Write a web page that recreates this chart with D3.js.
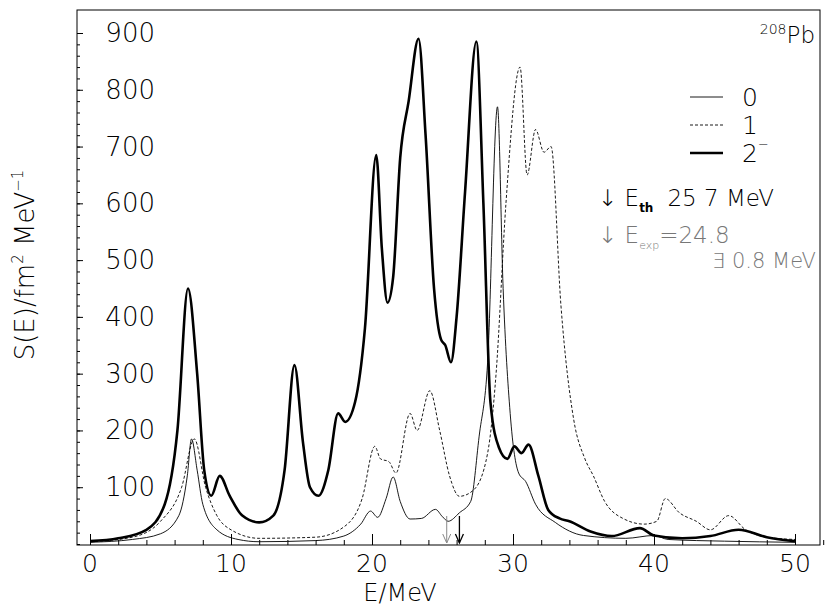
<!DOCTYPE html>
<html><head><meta charset="utf-8">
<script src="https://cdn.jsdelivr.net/npm/d3@7"></script>
<style>body{margin:0;background:#fff}text{font-family:"DejaVu Sans",sans-serif;font-weight:200}</style>
</head><body><svg id="c" width="830" height="606"></svg>
<script>
// state 0 (thin), 1 (dashed), 2- (thick): [E, S]
const s0 = [[0,3],[3,8],[5,18],[6.3,50],[6.9,120],[7.2,185],[7.6,130],[8,70],[9,25],[10.5,8],[12,4],[16,6],[18,14],[19.2,35],[19.9,58],[20.4,47],[21,80],[21.5,118],[22,75],[22.7,44],[23.5,45],[24.5,61],[25,48],[25.4,40],[26.2,55],[27,75],[27.6,190],[28.2,320],[28.9,770],[29.3,450],[29.8,230],[30.4,125],[30.9,110],[31.6,70],[33,38],[35,15],[38,10],[40,15],[41,8],[45,5],[50,3]];
const s1 = [[0,4],[3,12],[5,40],[6.5,100],[7.4,185],[8.2,100],[9,50],[10,25],[12,10],[16,12],[18,30],[19.3,80],[20.2,172],[20.6,150],[21.2,145],[21.7,125],[22.7,230],[23.2,200],[24.1,270],[24.8,200],[25.5,120],[26.2,84],[27.2,95],[28.2,160],[28.8,300],[29.5,600],[30.5,840],[31,650],[31.6,730],[32.2,690],[32.7,700],[33.4,420],[34.3,220],[35.1,150],[35.7,120],[36.5,75],[37.8,45],[39.3,35],[40.2,40],[40.8,80],[41.8,55],[43,40],[44,25],[45.3,50],[46.5,25],[48,12],[50,8]];
const s2 = [[0,5],[2,10],[4,25],[5.3,70],[6.2,200],[6.95,450],[7.6,300],[8.1,130],[8.6,85],[9.2,120],[9.9,85],[10.8,50],[12,38],[13,50],[13.8,130],[14.5,315],[15.1,180],[15.6,100],[16.2,85],[16.9,130],[17.6,230],[18.1,215],[18.8,250],[19.5,380],[20.3,685],[20.7,520],[21.1,425],[21.5,470],[22,680],[22.6,780],[23.3,890],[23.8,720],[24.4,450],[24.9,360],[25.2,350],[25.6,320],[26,400],[26.6,620],[27.4,885],[27.9,600],[28.4,250],[29,170],[29.6,150],[30.1,172],[30.6,160],[31.1,175],[31.8,120],[32.5,60],[33.3,45],[34,40],[35.5,22],[37,14],[39,28],[40,15],[42,10],[44,14],[46,25],[48,12],[50,5]];
const xTicks = [0,10,20,30,40,50];
const yTicks = [100,200,300,400,500,600,700,800,900];
const arrows = [[25.3,"#888",1],[26.2,"#000",1.3]];

const svg = d3.select("#c");
const x = d3.scaleLinear().domain([0,50]).range([90,795]);
const y = d3.scaleLinear().domain([0,900]).range([544,33]);
const L=77,R=820,T=10,B=545;
svg.append("rect").attr("x",L).attr("y",T).attr("width",R-L).attr("height",B-T).attr("fill","none").attr("stroke","#000").attr("stroke-width",1);

svg.append("g").attr("transform",`translate(0,${B})`)
  .call(d3.axisTop(x).tickValues(d3.range(0,53,2)).tickSize(5).tickFormat(""))
  .call(g=>g.select(".domain").remove());
svg.append("g").attr("transform",`translate(0,${B})`)
  .call(d3.axisTop(x).tickValues(xTicks).tickSize(11).tickFormat(""))
  .call(g=>g.select(".domain").remove());
xTicks.forEach(t=>svg.append("text").attr("x",x(t)).attr("y",572).attr("text-anchor","middle").attr("font-size",25).text(t));
svg.append("text").attr("x",400).attr("y",601).attr("text-anchor","middle").attr("font-size",24).text("E/MeV");

svg.append("g").attr("transform",`translate(${L},0)`)
  .call(d3.axisRight(y).tickValues(d3.range(0,901,20)).tickSize(3).tickFormat(""))
  .call(g=>g.select(".domain").remove());
svg.append("g").attr("transform",`translate(${L},0)`)
  .call(d3.axisRight(y).tickValues(yTicks).tickSize(6).tickFormat(""))
  .call(g=>g.select(".domain").remove());
yTicks.forEach(t=>svg.append("text").attr("x",155).attr("y",y(t)+9).attr("text-anchor","end").attr("font-size",26).text(t));
svg.append("text").attr("transform","translate(34,265) rotate(-90)").attr("text-anchor","middle").attr("font-size",26)
  .html('S(E)/fm<tspan font-size="15" dy="-11">2</tspan><tspan dy="11"> MeV</tspan><tspan font-size="15" dy="-11">−1</tspan>');

const line = d3.line().x(d=>x(d[0])).y(d=>y(d[1])).curve(d3.curveMonotoneX);
svg.append("path").datum(s0).attr("d",line).attr("fill","none").attr("stroke","#000").attr("stroke-width",0.9);
svg.append("path").datum(s1).attr("d",line).attr("fill","none").attr("stroke","#000").attr("stroke-width",0.9).attr("stroke-dasharray","3,2");
svg.append("path").datum(s2).attr("d",line).attr("fill","none").attr("stroke","#000").attr("stroke-width",2.6);

arrows.forEach(([e,c,w])=>{
  svg.append("line").attr("x1",x(e)).attr("x2",x(e)).attr("y1",516).attr("y2",543).attr("stroke",c).attr("stroke-width",w);
  svg.append("path").attr("d",`M${x(e)-4},534 L${x(e)},543 L${x(e)+4},534`).attr("fill","none").attr("stroke",c).attr("stroke-width",w);
});

svg.append("text").attr("x",815).attr("y",43).attr("text-anchor","end").attr("font-size",23)
  .html('<tspan font-size="14" dy="-9">208</tspan><tspan dy="9">Pb</tspan>');
const leg=[["0",0.9,null],["1",0.9,"3,2"],["2",2.6,null]];
leg.forEach((d,i)=>{
  const yy=97+i*28;
  svg.append("line").attr("x1",690).attr("x2",723).attr("y1",yy).attr("y2",yy).attr("stroke","#000").attr("stroke-width",d[1]).attr("stroke-dasharray",d[2]);
  const t=svg.append("text").attr("x",742).attr("y",yy+9).attr("font-size",25).text(d[0]);
  if(i===2) t.append("tspan").attr("font-size",13).attr("dy",-13).text("−");
});
svg.append("text").attr("x",598).attr("y",206).attr("font-size",23)
  .html('↓ E<tspan font-size="12" font-weight="bold" dy="6">th</tspan><tspan dy="-6" dx="14">25 7 MeV</tspan>');
svg.append("text").attr("x",598).attr("y",243).attr("font-size",23).attr("fill","#777")
  .html('↓ E<tspan font-size="11" dy="6">exp</tspan><tspan dy="-6">=24.8</tspan>');
svg.append("text").attr("x",712).attr("y",268).attr("font-size",21).attr("fill","#777").text("∃ 0.8 MeV");
</script></body></html>
